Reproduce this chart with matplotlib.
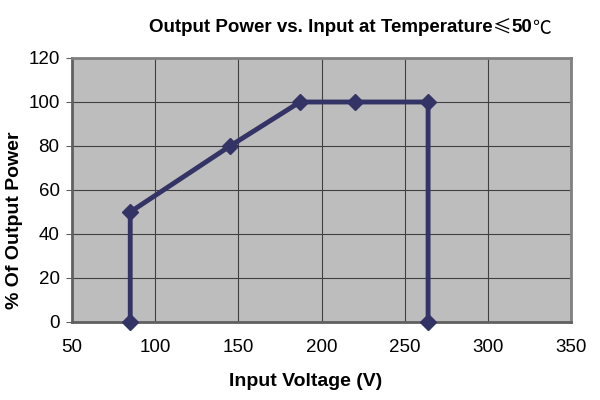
import matplotlib
matplotlib.use("Agg")
import matplotlib.pyplot as plt

voltage = [85, 85, 145, 187, 220, 264, 264]
power = [0, 50, 80, 100, 100, 100, 0]
xticks = [50, 100, 150, 200, 250, 300, 350]
yticks = [0, 20, 40, 60, 80, 100, 120]
title_parts = [('Output Power vs. Input at Temperature', 'bold', 'Liberation Sans'),
               ('≤', 'normal', 'Noto Sans CJK SC'),
               ('50', 'bold', 'Liberation Sans'),
               ('℃', 'normal', 'Noto Sans CJK SC')]

plt.rcParams['font.family'] = ['Liberation Sans', 'Noto Sans CJK SC', 'DejaVu Sans']

fig = plt.figure(figsize=(6, 4), dpi=100)
ax = fig.add_axes([0.12, 0.195, 0.832, 0.66])
ax.set_facecolor('#BDBDBD')
ax.plot(voltage, power, color='#333366', lw=3.5, marker='D', ms=8, clip_on=False, zorder=3)
ax.set_xlim(50, 350)
ax.set_ylim(0, 120)
ax.set_xticks(xticks)
ax.set_yticks(yticks)
ax.grid(True, color='#404040', lw=0.8)
ax.set_axisbelow(True)
for s in ax.spines.values():
    s.set_color('#808080')
    s.set_linewidth(2)
ax.spines['bottom'].set_color('#606060')
ax.spines['left'].set_color('#606060')
ax.tick_params(axis='both', labelsize=13.5, length=4, color='#606060')
ax.tick_params(axis='x', length=0, pad=12)
ax.tick_params(axis='y', pad=5)
ax.set_xlabel('Input Voltage (V)', fontsize=14, fontweight='bold')
ax.set_ylabel('% Of Output Power', fontsize=14, fontweight='bold')
ax.xaxis.set_label_coords(0.469, -0.195)
ax.yaxis.set_label_coords(-0.098, 0.386)

# title composed of pieces with different fonts
fig.canvas.draw()
renderer = fig.canvas.get_renderer()
texts = []
for s, w, fam in title_parts:
    t = fig.text(0, 0.93, s, ha='left', va='center', fontsize=13.5, fontweight=w,
                 family=[fam, 'DejaVu Sans'])
    texts.append(t)
widths = [t.get_window_extent(renderer).width / fig.bbox.width for t in texts]
total = sum(widths)
x = 0.583 - total / 2
for t, w in zip(texts, widths):
    t.set_x(x)
    x += w
fig.savefig('out.png', dpi=100)
